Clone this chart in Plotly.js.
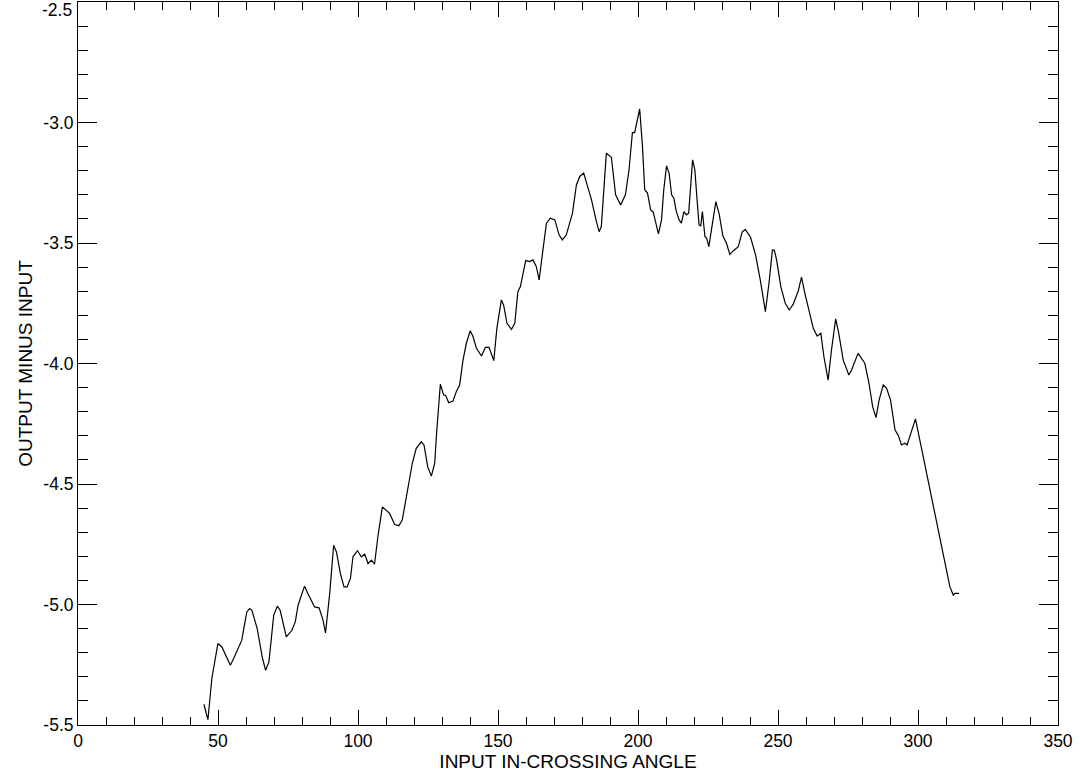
<!DOCTYPE html>
<html>
<head>
<meta charset="utf-8">
<script src="https://cdn.plot.ly/plotly-3.0.1.min.js"></script>
<style>
  html, body { margin: 0; padding: 0; background: #fff; }
  #chart { width: 1080px; height: 779px; }
</style>
</head>
<body>
<div id="chart"></div>
<script>
// Input in-crossing angle (x) and output minus input (y)
const inputAngle = [
  44.96, 46.4, 47.8, 49.96, 51.4, 53.5, 54.4, 55.3, 56.7, 58.5, 59.2, 60.3, 61.3, 62.1,
  64.0, 65.8, 67.0, 68.2, 69.9, 71.2, 72.2, 74.4, 76.4, 77.6, 78.6, 80.9, 82.1, 84.5,
  86.1, 87.5, 88.4, 89.9, 91.3, 92.3, 93.7, 95.0, 96.1, 97.3, 98.2, 99.8, 101.2, 102.4,
  103.6, 104.8, 105.9, 107.1, 108.7, 110.1, 111.3, 113.1, 114.6, 115.8, 117.6, 119.4,
  120.8, 122.6, 123.6, 124.9, 126.2, 127.4, 128.0, 129.4, 130.6, 131.3, 132.4, 133.9,
  135.1, 136.3, 137.5, 138.7, 140.1, 141.1, 142.3, 144.1, 145.5, 146.8, 148.5, 149.6,
  151.2, 152.0, 153.2, 154.8, 156.0, 157.1, 158.0, 159.9, 161.3, 162.5, 163.7, 164.7,
  165.9, 167.3, 168.7, 170.3, 171.8, 173.0, 174.4, 176.6, 178.0, 179.2, 180.6, 181.8,
  183.4, 185.0, 186.1, 186.9, 188.7, 190.5, 192.0, 193.8, 195.5, 196.8, 198.0, 198.8,
  199.7, 200.6, 201.6, 202.4, 203.4, 204.5, 205.4, 206.4, 207.3, 208.4, 209.2, 210.2,
  211.1, 212.0, 212.8, 213.7, 214.7, 215.5, 216.4, 217.3, 218.1, 219.5, 220.3, 221.1,
  221.8, 222.4, 223.0, 223.9, 224.5, 225.3, 226.5, 227.8, 229.0, 230.3, 231.6, 232.8,
  234.0, 235.8, 237.2, 238.3, 240.2, 242.0, 243.7, 245.5, 246.8, 248.0, 248.7, 249.5,
  251.0, 252.6, 254.0, 255.4, 257.2, 258.4, 259.6, 260.8, 262.6, 264.0, 265.3, 266.4,
  267.9, 269.1, 270.6, 271.7, 273.3, 275.3, 276.3, 277.2, 278.6, 281.0, 282.5, 283.8,
  285.0, 286.1, 287.6, 288.8, 290.2, 291.8, 292.9, 294.1, 295.3, 296.1, 297.7, 299.1,
  311.4, 312.6, 313.2, 314.7
];
const outputMinusInput = [
  -5.414, -5.478, -5.307, -5.162, -5.176, -5.231, -5.252, -5.231, -5.197, -5.148, -5.100, -5.031, -5.017, -5.024,
  -5.100, -5.218, -5.273, -5.238, -5.044, -5.007, -5.024, -5.134, -5.107, -5.072, -5.003, -4.924, -4.954, -5.010,
  -5.014, -5.065, -5.118, -4.954, -4.754, -4.782, -4.871, -4.927, -4.927, -4.892, -4.802, -4.777, -4.802, -4.791,
  -4.830, -4.816, -4.833, -4.719, -4.595, -4.611, -4.622, -4.668, -4.673, -4.650, -4.525, -4.414,
  -4.352, -4.325, -4.339, -4.429, -4.467, -4.414, -4.300, -4.086, -4.131, -4.132, -4.163, -4.156,
  -4.117, -4.089, -3.986, -3.916, -3.864, -3.889, -3.937, -3.969, -3.933, -3.933, -3.988, -3.854,
  -3.736, -3.757, -3.833, -3.858, -3.833, -3.702, -3.681, -3.573, -3.577, -3.570, -3.598, -3.653,
  -3.542, -3.418, -3.397, -3.404, -3.466, -3.487, -3.466, -3.376, -3.259, -3.224, -3.210, -3.255,
  -3.321, -3.404, -3.453, -3.432, -3.127, -3.144, -3.300, -3.342, -3.300, -3.196, -3.042, -3.042,
  -2.989, -2.944, -3.100, -3.279, -3.293, -3.363, -3.370, -3.418, -3.462, -3.404, -3.279, -3.180,
  -3.210, -3.300, -3.314, -3.370, -3.404, -3.418, -3.370, -3.383, -3.376, -3.155, -3.196, -3.321,
  -3.425, -3.429, -3.370, -3.473, -3.480, -3.515, -3.418, -3.328, -3.380, -3.470, -3.501, -3.547,
  -3.533, -3.515, -3.455, -3.444, -3.476, -3.550, -3.655, -3.785, -3.665, -3.529, -3.530, -3.570,
  -3.681, -3.750, -3.778, -3.755, -3.700, -3.642, -3.709, -3.771, -3.854, -3.886, -3.875, -3.972,
  -4.069, -3.944, -3.815, -3.875, -3.986, -4.048, -4.027, -3.999, -3.958, -3.999, -4.082, -4.179,
  -4.224, -4.152, -4.089, -4.103, -4.152, -4.276, -4.297, -4.338, -4.331, -4.338, -4.276, -4.230,
  -4.927, -4.961, -4.954, -4.954
];
const xTickVals = [0, 50, 100, 150, 200, 250, 300, 350];
const xTickText = ['0', '50', '100', '150', '200', '250', '300', '350'];
const yTickVals = [-5.5, -5.0, -4.5, -4.0, -3.5, -3.0, -2.5];
const yTickText = ['-5.5', '-5.0', '-4.5', '-4.0', '-3.5', '-3.0', ''];
const yTopLabel = '-2.5';
const xTitle = 'INPUT IN-CROSSING ANGLE';
const yTitle = 'OUTPUT MINUS INPUT';

const font = 'Liberation Sans, Arial, Helvetica, sans-serif';

const trace = {
  x: inputAngle,
  y: outputMinusInput,
  type: 'scatter',
  mode: 'lines',
  line: { color: '#000000', width: 1.2 },
  hoverinfo: 'skip'
};

const commonAxis = {
  showgrid: false,
  zeroline: false,
  showline: true,
  linecolor: '#000000',
  linewidth: 1,
  mirror: 'allticks',
  ticks: 'inside',
  tickcolor: '#000000',
  tickwidth: 1,
  tickfont: { family: font, size: 17.5, color: '#000000' },
  ticklabeloverflow: 'allow',
  automargin: false
};

const layout = {
  width: 1080,
  height: 779,
  paper_bgcolor: '#ffffff',
  plot_bgcolor: '#ffffff',
  showlegend: false,
  margin: { l: 78, r: 22, t: 2, b: 54 },
  xaxis: Object.assign({}, commonAxis, {
    range: [0, 350],
    tickmode: 'array',
    tickvals: xTickVals,
    ticktext: xTickText,
    ticklen: 15,
    minor: { tickmode: 'linear', ticks: 'inside', dtick: 10, tick0: 0, ticklen: 8, tickcolor: '#000000', tickwidth: 1 },
    title: { text: xTitle, font: { family: font, size: 19, color: '#000000' }, standoff: 4 }
  }),
  yaxis: Object.assign({}, commonAxis, {
    range: [-5.5, -2.5],
    tickmode: 'array',
    tickvals: yTickVals,
    ticktext: yTickText,
    ticklen: 19,
    minor: { tickmode: 'linear', ticks: 'inside', dtick: 0.1, tick0: -5.5, ticklen: 10, tickcolor: '#000000', tickwidth: 1 },
    title: { text: yTitle, font: { family: font, size: 19, color: '#000000' }, standoff: 5 }
  }),
  annotations: [{
    text: yTopLabel,
    xref: 'paper', yref: 'paper',
    x: 0, y: 1,
    xanchor: 'right', yanchor: 'top',
    xshift: -4, yshift: 4,
    showarrow: false,
    font: { family: font, size: 17.5, color: '#000000' }
  }]
};

Plotly.newPlot('chart', [trace], layout, { staticPlot: true, displayModeBar: false });
</script>
</body>
</html>
